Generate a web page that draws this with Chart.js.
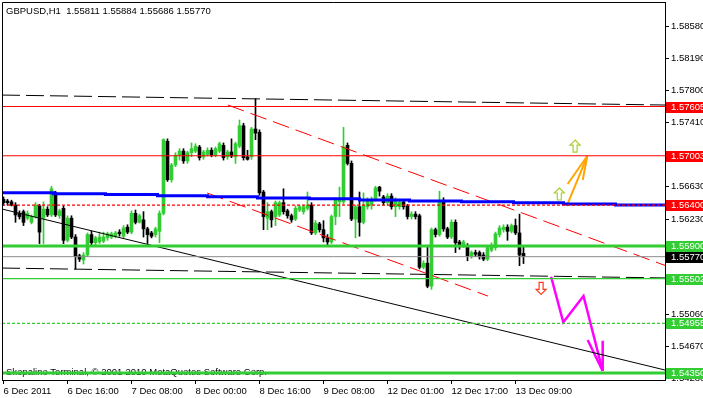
<!DOCTYPE html>
<html>
<head>
<meta charset="utf-8">
<script src="https://cdn.jsdelivr.net/npm/chart.js@4.4.1/dist/chart.umd.min.js"></script>
<style>
  html, body { margin: 0; padding: 0; background: #fff; }
  canvas { display: block; }
</style>
</head>
<body>
<canvas id="chart" width="703" height="398"></canvas>
<script>
// GBPUSD H1 candles, 6 Dec 2011 00:00 .. 13 Dec 2011 11:00
const opens = [
  1.5647, 1.5645, 1.5644, 1.5640, 1.5630, 1.5632, 1.5624, 1.5619, 1.5626, 1.5639,
  1.5624, 1.5635, 1.5628, 1.5655, 1.5627, 1.5636, 1.5597, 1.5624, 1.5601, 1.5578,
  1.5573, 1.5579, 1.5604, 1.5594, 1.5595, 1.5596, 1.5600, 1.5601, 1.5602, 1.5607,
  1.5602, 1.5613, 1.5607, 1.5630, 1.5619, 1.5622, 1.5611, 1.5606, 1.5604, 1.5608,
  1.5630, 1.5718, 1.5671, 1.5689, 1.5701, 1.5706, 1.5694, 1.5704, 1.5706, 1.5711,
  1.5699, 1.5702, 1.5707, 1.5701, 1.5706, 1.5713, 1.5699, 1.5705, 1.5699, 1.5712,
  1.5737, 1.5699, 1.5699, 1.5733, 1.5729, 1.5656, 1.5624, 1.5632, 1.5626, 1.5628,
  1.5643, 1.5633, 1.5627, 1.5623, 1.5634, 1.5632, 1.5636, 1.5640, 1.5606, 1.5617,
  1.5610, 1.5600, 1.5595, 1.5626, 1.5644, 1.5644, 1.5713, 1.5691, 1.5623, 1.5638,
  1.5619, 1.5638, 1.5640, 1.5647, 1.5662, 1.5650, 1.5643, 1.5651, 1.5638, 1.5638,
  1.5644, 1.5639, 1.5626, 1.5629, 1.5627, 1.5564, 1.5569, 1.5541, 1.5610, 1.5604,
  1.5646, 1.5611, 1.5601, 1.5619, 1.5595, 1.5590, 1.5590, 1.5578, 1.5582, 1.5582,
  1.5579, 1.5574, 1.5585, 1.5588, 1.5604, 1.5610, 1.5613, 1.5608, 1.5615, 1.5606,
  1.55811
];
const highs = [
  1.5650, 1.5647, 1.5646, 1.5643, 1.5633, 1.5634, 1.5633, 1.5628, 1.5643, 1.5641,
  1.5644, 1.5638, 1.5663, 1.5657, 1.5635, 1.5639, 1.5627, 1.5627, 1.5604, 1.5580,
  1.5582, 1.5606, 1.5608, 1.5602, 1.5607, 1.5607, 1.5607, 1.5607, 1.5608, 1.5610,
  1.5615, 1.5616, 1.5633, 1.5634, 1.5629, 1.5632, 1.5613, 1.5608, 1.5613, 1.5633,
  1.5721, 1.5721, 1.5691, 1.5704, 1.5709, 1.5709, 1.5706, 1.5716, 1.5715, 1.5713,
  1.5707, 1.5710, 1.5710, 1.5711, 1.5717, 1.5716, 1.5707, 1.5721, 1.5717, 1.5744,
  1.5740, 1.5707, 1.5735, 1.5770, 1.5732, 1.5658, 1.5643, 1.5634, 1.5645, 1.5645,
  1.5660, 1.5635, 1.5629, 1.5639, 1.5640, 1.5640, 1.5656, 1.5643, 1.5621, 1.5619,
  1.5621, 1.5604, 1.5628, 1.5649, 1.5662, 1.5735, 1.5716, 1.5694, 1.5640, 1.5656,
  1.5655, 1.5649, 1.5650, 1.5663, 1.5663, 1.5652, 1.5654, 1.5654, 1.5649, 1.5646,
  1.5646, 1.5641, 1.5632, 1.5632, 1.5629, 1.5572, 1.5591, 1.5612, 1.5612, 1.5657,
  1.5649, 1.5613, 1.5622, 1.5622, 1.5597, 1.5597, 1.5593, 1.5584, 1.5585, 1.5584,
  1.5582, 1.5590, 1.5594, 1.5607, 1.5615, 1.5616, 1.5616, 1.5617, 1.5623, 1.5629,
  1.55884
];
const lows = [
  1.5640, 1.5640, 1.5639, 1.5619, 1.5623, 1.5615, 1.5622, 1.5617, 1.5624, 1.5593,
  1.5593, 1.5626, 1.5626, 1.5626, 1.5624, 1.5593, 1.5595, 1.5599, 1.5562, 1.5571,
  1.5568, 1.5577, 1.5591, 1.5591, 1.5593, 1.5594, 1.5597, 1.5599, 1.5600, 1.5602,
  1.5600, 1.5605, 1.5605, 1.5617, 1.5618, 1.5601, 1.5593, 1.5600, 1.5601, 1.5594,
  1.5628, 1.5669, 1.5668, 1.5687, 1.5695, 1.5691, 1.5691, 1.5699, 1.5704, 1.5695,
  1.5696, 1.5700, 1.5699, 1.5699, 1.5704, 1.5695, 1.5696, 1.5698, 1.5691, 1.5710,
  1.5695, 1.5695, 1.5696, 1.5720, 1.5652, 1.5610, 1.5610, 1.5613, 1.5615, 1.5626,
  1.5629, 1.5624, 1.5619, 1.5621, 1.5632, 1.5629, 1.5634, 1.5604, 1.5604, 1.5607,
  1.5595, 1.5591, 1.5593, 1.5616, 1.5626, 1.5641, 1.5689, 1.5621, 1.5600, 1.5602,
  1.5617, 1.5635, 1.5635, 1.5645, 1.5651, 1.5640, 1.5640, 1.5635, 1.5626, 1.5635,
  1.5635, 1.5623, 1.5623, 1.5623, 1.5562, 1.5562, 1.5539, 1.5537, 1.5601, 1.5602,
  1.5608, 1.5599, 1.5599, 1.5582, 1.5586, 1.5588, 1.5572, 1.5575, 1.5577, 1.5574,
  1.5572, 1.5572, 1.5583, 1.5585, 1.5601, 1.5607, 1.5597, 1.5606, 1.5604, 1.5566,
  1.55686
];
const closes = [
  1.5643, 1.5643, 1.5640, 1.5628, 1.5626, 1.5619, 1.5630, 1.5626, 1.5640, 1.5607,
  1.5635, 1.5628, 1.5660, 1.5628, 1.5633, 1.5597, 1.5624, 1.5601, 1.5577, 1.5574,
  1.5579, 1.5604, 1.5594, 1.5600, 1.5601, 1.5601, 1.5605, 1.5605, 1.5606, 1.5605,
  1.5612, 1.5607, 1.5630, 1.5619, 1.5627, 1.5611, 1.5604, 1.5602, 1.5611, 1.5630,
  1.5720, 1.5671, 1.5689, 1.5701, 1.5706, 1.5694, 1.5704, 1.5709, 1.5712, 1.5698,
  1.5705, 1.5707, 1.5701, 1.5709, 1.5715, 1.5698, 1.5705, 1.5700, 1.5715, 1.5737,
  1.5698, 1.5696, 1.5733, 1.5728, 1.5655, 1.5626, 1.5632, 1.5622, 1.5643, 1.5643,
  1.5632, 1.5627, 1.5622, 1.5636, 1.5638, 1.5638, 1.5640, 1.5606, 1.5618, 1.5610,
  1.5600, 1.5595, 1.5626, 1.5646, 1.5647, 1.5711, 1.5691, 1.5623, 1.5638, 1.5619,
  1.5640, 1.5646, 1.5647, 1.5661, 1.5657, 1.5643, 1.5651, 1.5638, 1.5646, 1.5644,
  1.5638, 1.5626, 1.5629, 1.5626, 1.5564, 1.5569, 1.5541, 1.5610, 1.5604, 1.5646,
  1.5611, 1.5601, 1.5619, 1.5594, 1.5589, 1.5595, 1.5578, 1.5582, 1.5580, 1.5577,
  1.5574, 1.5588, 1.5591, 1.5605, 1.5612, 1.5613, 1.5608, 1.5615, 1.5606, 1.5579,
  1.5577
];

const timeTickIdx = [0, 16, 32, 48, 64, 80, 96, 112, 128];
const timeTickLabels = ['6 Dec 2011', '6 Dec 16:00', '7 Dec 08:00', '8 Dec 00:00', '8 Dec 16:00',
  '9 Dec 08:00', '12 Dec 01:00', '12 Dec 17:00', '13 Dec 09:00'];
const priceTicks = [1.5428, 1.5467, 1.5506, 1.5545, 1.5584, 1.5623, 1.5663, 1.5702,
  1.5741, 1.5780, 1.5819, 1.5858];

// horizontal levels with their price tags on the axis
const levelPrices = [1.57605, 1.57003, 1.56400, 1.55900, 1.55770, 1.55502, 1.54955, 1.54350];

// blue stepped indicator
const blueIdx = [-0.375, 12.5, 25.5, 38.5, 51, 63.5, 76.5, 89, 101.5, 114.5, 127.5, 140, 153, 165.375];
const blueVals = [1.56551, 1.56539, 1.56529, 1.56515, 1.56501, 1.56487, 1.56478, 1.56462,
  1.56450, 1.56441, 1.56429, 1.56413, 1.56401, 1.56401];

// drawn objects, [bar index, price] end points
const topDashed = [[-0.375, 1.57745], [165.375, 1.57623]];
const lowDashed = [[-0.375, 1.55631], [165.375, 1.55510]];
const trendLine = [[-0.375, 1.56352], [165.375, 1.54385]];
const channelUp = [[56.1, 1.57623], [165.375, 1.55663]];
const channelDn = [[50.9, 1.56548], [121.1, 1.55289]];
const orangeShaft = [[140.8, 1.56389], [145.95, 1.5700]];
const orangeWingL = [[141.05, 1.56658], [145.95, 1.5700]];
const orangeWingR = [[144.8, 1.56707], [145.95, 1.5700]];
const magentaPath = [[136.9, 1.55525], [139.95, 1.54968], [145.0, 1.55289], [149.8, 1.54373]];
const magentaWingL = [[146.05, 1.54752], [149.8, 1.54373]];
const magentaWingR = [[149.8, 1.54743], [149.8, 1.54373]];
const upArrows = [[142.9, 1.57122], [138.95, 1.56536]];
const downArrows = [[134.4, 1.55383]];

const FONT = '9.5px "Liberation Sans", Arial, sans-serif';
const GREEN = '#32cd32';
const levelLook = [
  { color: '#ff0000', width: 1, dash: [], tag: '#ff0000' },
  { color: '#ff0000', width: 1, dash: [], tag: '#ff0000' },
  { color: '#ff0000', width: 1.4, dash: [3, 2], tag: '#ff0000' },
  { color: GREEN, width: 3, dash: [], tag: GREEN },
  { color: '#8c8c8c', width: 1, dash: [], tag: '#000000' },
  { color: GREEN, width: 1.2, dash: [], tag: GREEN },
  { color: GREEN, width: 1.4, dash: [3, 2], tag: GREEN },
  { color: GREEN, width: 3, dash: [], tag: GREEN }
];

const bull = opens.map((o, i) => closes[i] >= o);
const pts = arr => arr.map(p => ({ x: p[0], y: p[1] }));
const X_MIN = -0.375, X_MAX = 165.375;

function line(data, color, width, dash, extra) {
  return Object.assign({
    type: 'line', data: data, borderColor: color, borderWidth: width,
    borderDash: dash || [], pointRadius: 0, fill: false, tension: 0, order: 1
  }, extra || {});
}

const datasets = [];
levelPrices.forEach((p, i) => {
  const s = levelLook[i];
  datasets.push(line([{ x: X_MIN, y: p }, { x: X_MAX, y: p }], s.color, s.width, s.dash));
});
datasets.push(line(blueIdx.map((x, i) => ({ x: x, y: blueVals[i] })), '#0000ff', 3, [], { stepped: 'before' }));
datasets.push(line(pts(topDashed), '#000', 1, [18, 6]));
datasets.push(line(pts(lowDashed), '#000', 1, [18, 6]));
datasets.push(line(pts(trendLine), '#000', 1));
datasets.push(line(pts(channelUp), '#ff0000', 1, [17, 7]));
datasets.push(line(pts(channelDn), '#ff0000', 1, [17, 7]));
datasets.push(line(pts(orangeShaft), '#ffa500', 2));
datasets.push(line(pts(orangeWingL), '#ffa500', 2));
datasets.push(line(pts(orangeWingR), '#ffa500', 2));
datasets.push(line(pts(magentaPath), '#ff00ff', 2.5));
datasets.push(line(pts(magentaWingL), '#ff00ff', 2.5));
datasets.push(line(pts(magentaWingR), '#ff00ff', 2.5));

// candle bodies and wicks as floating bars
datasets.push({
  type: 'bar', order: 5, grouped: false,
  data: opens.map((o, i) => ({ x: i, y: [o, closes[i]] })),
  backgroundColor: bull.map(b => b ? GREEN : '#000'),
  barPercentage: 1, categoryPercentage: 1, maxBarThickness: 3, borderWidth: 0
});
datasets.push({
  type: 'bar', order: 6, grouped: false,
  data: lows.map((l, i) => ({ x: i, y: [l, highs[i]] })),
  backgroundColor: bull.map(b => b ? GREEN : '#000'),
  barPercentage: 1, categoryPercentage: 1, maxBarThickness: 1, borderWidth: 0
});

function arrow(ctx, x, y, dir, stroke) {
  const shape = [[0, -6], [5, -1], [2, -1], [2, 6], [-2, 6], [-2, -1], [-5, -1]];
  ctx.beginPath();
  shape.forEach((p, i) => {
    const px = x + p[0], py = y + p[1] * dir;
    i ? ctx.lineTo(px, py) : ctx.moveTo(px, py);
  });
  ctx.closePath();
  ctx.fillStyle = '#ffffff';
  ctx.fill();
  ctx.strokeStyle = stroke;
  ctx.lineWidth = 1.2;
  ctx.stroke();
}

const overlay = {
  id: 'overlay',
  beforeDatasetsDraw(chart) {
    const { ctx, chartArea: a } = chart;
    ctx.save();
    ctx.font = FONT;
    ctx.fillStyle = '#000';
    ctx.textBaseline = 'middle';
    ctx.fillText('Skopalino Terminal, \u00a9 2001-2010 MetaQuotes Software Corp.', a.left + 4, a.bottom - 8);
    ctx.restore();
  },
  afterDatasetsDraw(chart) {
    const { ctx } = chart;
    const xs = chart.scales.x, ys = chart.scales.y;
    ctx.save();
    upArrows.forEach(p => arrow(ctx, xs.getPixelForValue(p[0]), ys.getPixelForValue(p[1]), 1, '#a8cf30'));
    downArrows.forEach(p => arrow(ctx, xs.getPixelForValue(p[0]), ys.getPixelForValue(p[1]), -1, '#ff3a1a'));
    ctx.restore();
  },
  afterDraw(chart) {
    const { ctx, chartArea: a } = chart;
    const ys = chart.scales.y;
    ctx.save();
    // frame
    ctx.strokeStyle = '#000';
    ctx.lineWidth = 1;
    ctx.beginPath();
    ctx.moveTo(a.left + 0.5, a.bottom);
    ctx.lineTo(a.left + 0.5, a.top + 0.5);
    ctx.lineTo(a.right, a.top + 0.5);
    ctx.stroke();
    // price tags
    ctx.font = FONT;
    ctx.textBaseline = 'middle';
    levelPrices.forEach((p, i) => {
      const y = Math.round(ys.getPixelForValue(p));
      ctx.fillStyle = levelLook[i].tag;
      ctx.fillRect(a.right + 1, y - 5, 40, 11);
      ctx.fillStyle = '#fff';
      ctx.fillText(p.toFixed(5), a.right + 6, y + 0.5);
    });
    // title
    ctx.fillStyle = '#000';
    ctx.fillText('GBPUSD,H1  1.55811 1.55884 1.55686 1.55770', a.left + 4, a.top + 9.5);
    ctx.restore();
  }
};

new Chart(document.getElementById('chart'), {
  type: 'bar',
  data: { datasets: datasets },
  options: {
    responsive: false,
    animation: false,
    events: [],
    layout: { padding: { left: 2, top: 2, right: 0, bottom: 0 } },
    plugins: { legend: { display: false }, tooltip: { enabled: false } },
    scales: {
      x: {
        type: 'linear', min: X_MIN, max: X_MAX, offset: false,
        grid: { offset: false, drawOnChartArea: false, drawTicks: true, tickLength: 4, color: '#000' },
        border: { display: true, color: '#000' },
        ticks: {
          autoSkip: false, maxRotation: 0, align: 'start', padding: 2, color: '#000',
          font: { family: '"Liberation Sans", Arial, sans-serif', size: 9.5 },
          callback: (v, i) => timeTickLabels[i]
        },
        afterBuildTicks: s => { s.ticks = timeTickIdx.map(v => ({ value: v })); },
        afterFit: s => { s.height = 18; s.paddingLeft = 0; s.paddingRight = 0; }
      },
      y: {
        type: 'linear', position: 'right', min: 1.54263, max: 1.58882, beginAtZero: false,
        grid: { drawOnChartArea: false, drawTicks: true, tickLength: 4, color: '#000' },
        border: { display: true, color: '#000' },
        ticks: {
          padding: 2, color: '#000',
          font: { family: '"Liberation Sans", Arial, sans-serif', size: 9.5 },
          callback: v => Number(v).toFixed(5)
        },
        afterBuildTicks: s => { s.ticks = priceTicks.map(v => ({ value: v })); },
        afterFit: s => { s.width = 38; s.paddingTop = 0; s.paddingBottom = 0; }
      }
    }
  },
  plugins: [overlay]
});
</script>
</body>
</html>
